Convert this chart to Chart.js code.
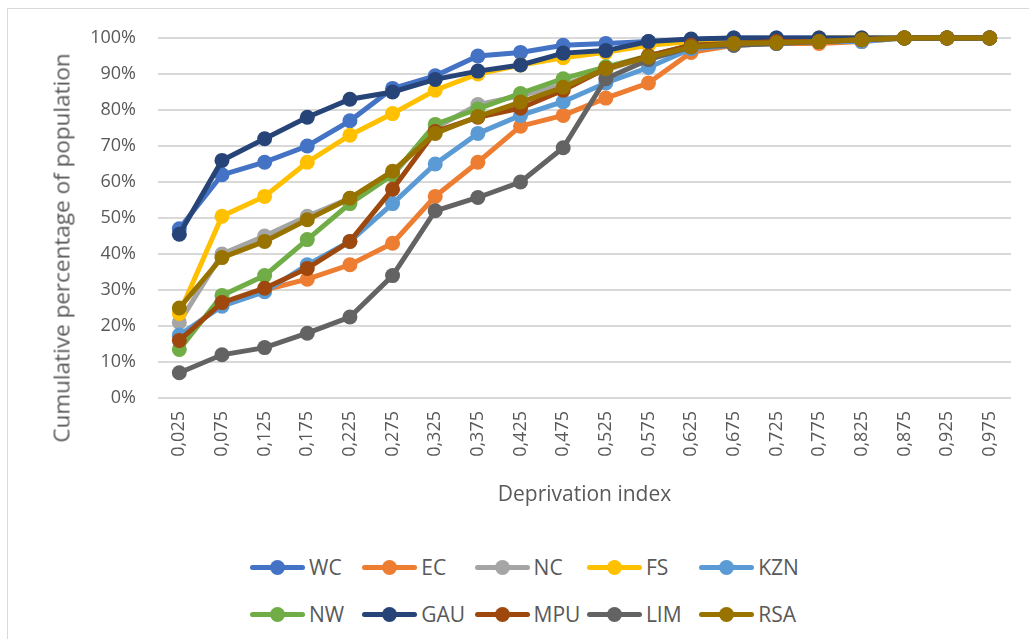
<!DOCTYPE html>
<html>
<head>
<meta charset="utf-8">
<script src="https://cdn.jsdelivr.net/npm/chart.js@4"></script>
<style>
    html, body { margin: 0; padding: 0; background: #fff; }
    body { width: 1029px; height: 639px; position: relative; overflow: hidden; font-family: 'Open Sans', sans-serif; }
    .moldura { position: absolute; left: 7px; top: 8px; width: 1040px; height: 650px; border-left: 1.5px solid #d9d9d9; border-top: 1.5px solid #d9d9d9; }
    .grafico { position: absolute; left: 0; top: 0; width: 1029px; height: 520px; }
    .tituloY { position: absolute; left: 61px; top: 248px; transform: translate(-50%, -50%) rotate(-90deg); white-space: nowrap; color: #595959; font-size: 22.5px; }
    .legenda { position: absolute; left: 250px; top: 0; }
    .item { position: absolute; display: flex; align-items: center; white-space: nowrap; color: #595959; font-size: 21px; }
    .item .traco { position: relative; width: 55px; height: 5px; border-radius: 3px; margin-right: 4px; }
    .item .traco::after { content: ''; position: absolute; left: 20px; top: -5px; width: 15px; height: 15px; border-radius: 50%; background: inherit; }
</style>
</head>
<body>
<div class="moldura"></div>
<div class="grafico"><canvas id="chartLinha"></canvas></div>
<div class="tituloY">Cumulative percentage of population</div>
<div class="legenda" id="legenda"></div>
<script>
// ===== dados =====
const indices = ['0,025','0,075','0,125','0,175','0,225','0,275','0,325','0,375','0,425','0,475',
                 '0,525','0,575','0,625','0,675','0,725','0,775','0,825','0,875','0,925','0,975'];

const WC  = [47, 62, 65.5, 70, 77, 86, 89.5, 95, 96, 98, 98.5, 99, 99.5, 100, 100, 100, 100, 100, 100, 100];
const EC  = [17, 26, 30, 33, 37, 43, 56, 65.5, 75.5, 78.5, 83.3, 87.5, 96, 98, 98.5, 98.5, 99, 100, 100, 100];
const NC  = [21, 40, 45, 50.5, 55.5, 62, 75, 81.5, 84, 87, 91, 95, 98, 98.5, 99, 99, 99.5, 100, 100, 100];
const FS  = [23.5, 50.5, 56, 65.5, 73, 79, 85.5, 90, 92.5, 94.5, 96, 98, 99, 99.5, 99.5, 100, 100, 100, 100, 100];
const KZN = [17.5, 25.5, 29.5, 37, 43.5, 54, 65, 73.5, 78.5, 82.3, 87.5, 91.8, 97, 98, 98.5, 99, 99, 100, 100, 100];
const NW  = [13.5, 28.5, 34, 44, 54, 62, 76, 80.3, 84.6, 88.7, 92, 95, 98, 98.5, 99, 99, 99.5, 100, 100, 100];
const GAU = [45.5, 66, 72, 78, 83, 85, 88.5, 90.8, 92.5, 95.8, 96.5, 99, 99.7, 100, 100, 100, 100, 100, 100, 100];
const MPU = [16, 26.5, 30.5, 36, 43.5, 58, 74, 78, 80.5, 85.5, 91.5, 95, 98, 98.5, 99, 99, 99.5, 100, 100, 100];
const LIM = [7, 12, 14, 18, 22.5, 34, 52, 55.7, 60, 69.5, 88.7, 94, 97.5, 98, 98.5, 99, 99.5, 100, 100, 100];
const RSA = [25, 39, 43.5, 49.5, 55.5, 63, 73.5, 78.2, 82.2, 86.3, 91.5, 94.7, 97.5, 98.5, 98.7, 99, 99.5, 100, 100, 100];

const series = [
    ['WC', WC, '#4472C4'],
    ['EC', EC, '#ED7D31'],
    ['NC', NC, '#A5A5A5'],
    ['FS', FS, '#FFC000'],
    ['KZN', KZN, '#5B9BD5'],
    ['NW', NW, '#70AD47'],
    ['GAU', GAU, '#264478'],
    ['MPU', MPU, '#9E480E'],
    ['LIM', LIM, '#636363'],
    ['RSA', RSA, '#997300'],
];

const cinza = '#595959';

new Chart(document.getElementById('chartLinha'), {
    type: 'line',
    data: {
        labels: indices,
        datasets: series.map(([nome, valores, cor], i) => ({
            label: nome,
            data: valores,
            borderColor: cor,
            backgroundColor: cor,
            borderWidth: 5,
            tension: 0,
            pointRadius: 7.5,
            pointHoverRadius: 7.5,
            pointBackgroundColor: cor,
            pointBorderWidth: 0,
            clip: false,
            order: series.length - i,   // último desenhado por cima, como no Excel
        }))
    },
    options: {
        responsive: true,
        maintainAspectRatio: false,
        animation: false,
        layout: { padding: { top: 38, right: 18, left: 0, bottom: 0 } },
        plugins: {
            legend: { display: false },
            tooltip: { enabled: false }
        },
        scales: {
            y: {
                min: 0,
                max: 100,
                afterFit: s => { s.width = 158; },
                ticks: {
                    stepSize: 10,
                    padding: 22,
                    color: cinza,
                    font: { family: 'Open Sans', size: 18 },
                    callback: v => v + '%'
                },
                grid: { color: '#d9d9d9', lineWidth: 2, drawTicks: false },
                border: { display: false }
            },
            x: {
                offset: true,
                afterFit: s => { s.height = 122; },
                grid: { display: false, drawTicks: false, offset: true },
                border: { display: false },
                ticks: {
                    minRotation: 90,
                    maxRotation: 90,
                    padding: 13,
                    color: cinza,
                    font: { family: 'Open Sans', size: 18 }
                },
                title: {
                    display: true,
                    text: 'Deprivation index',
                    color: cinza,
                    font: { family: 'Open Sans', size: 21 },
                    padding: { top: 0, bottom: 12 }
                }
            }
        }
    }
});

// ===== legenda (grade 5 x 2, estilo Excel) =====
const legenda = document.getElementById('legenda');
series.forEach(([nome, , cor], i) => {
    const item = document.createElement('div');
    item.className = 'item';
    item.style.left = ((i % 5) * 112.3) + 'px';
    item.style.top = (i < 5 ? 567 : 614) - 15 + 'px';
    item.style.height = '30px';
    item.innerHTML = `<span class="traco" style="background:${cor}"></span><span>${nome}</span>`;
    legenda.appendChild(item);
});
</script>
</body>
</html>
